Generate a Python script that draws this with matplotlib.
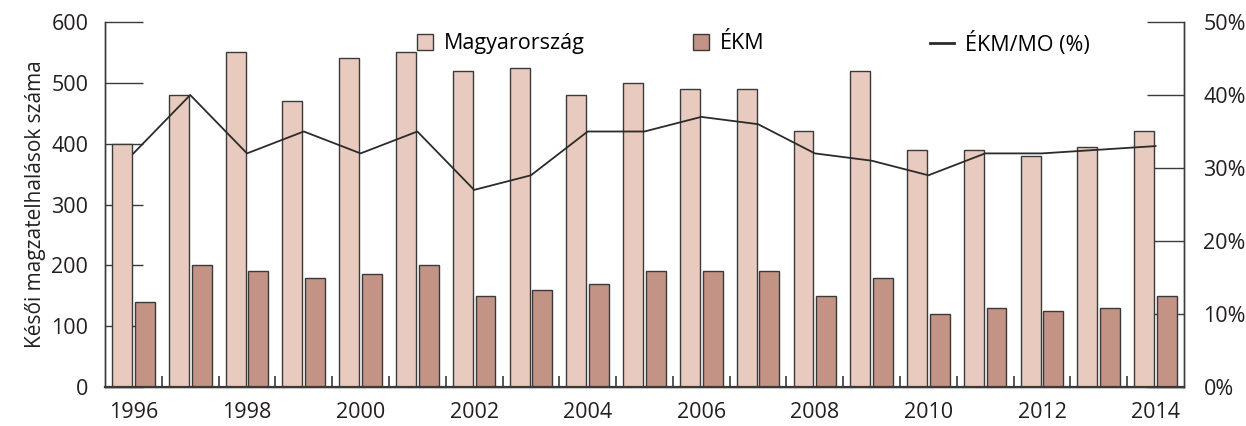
import matplotlib
matplotlib.use("Agg")
import matplotlib.pyplot as plt
from matplotlib.patches import Patch
from matplotlib.lines import Line2D
import numpy as np

plt.rcParams['font.family'] = ['Open Sans', 'DejaVu Sans']

years = list(range(1996, 2015))
magyarorszag = [400, 480, 550, 470, 540, 550, 520, 525, 480, 500,
                490, 490, 420, 520, 390, 390, 380, 395, 420]
ekm = [140, 200, 190, 180, 185, 200, 150, 160, 170, 190,
       190, 190, 150, 180, 120, 130, 125, 130, 150]
arany = [32, 40, 32, 35, 32, 35, 27, 29, 35, 35,
         37, 36, 32, 31, 29, 32, 32, 32.5, 33]

c_mo = '#E8CBBE'
c_ekm = '#C39385'
c_edge = '#3a3a3a'

fig = plt.figure(figsize=(12.46, 4.26), dpi=100)
ax = fig.add_axes([0.0843, 0.0915, 0.8659, 0.8569])
ax2 = ax.twinx()
# bars must cover the inward ticks of both axes
ax2.set_zorder(0)
ax.set_zorder(1)
ax.patch.set_visible(False)

x = np.arange(len(years))
w = 0.35
ax.bar(x - 0.2, magyarorszag, w, color=c_mo, edgecolor=c_edge, linewidth=1.0, zorder=3)
ax.bar(x + 0.2, ekm, w, color=c_ekm, edgecolor=c_edge, linewidth=1.0, zorder=3)

ax.set_xlim(-0.5, len(years) - 0.5)
ax.set_ylim(0, 600)
ax2.set_ylim(0, 50)
ax.plot(x, arany, color='#2b2b2b', linewidth=1.3, zorder=4, transform=ax2.transData)

ax.set_yticks(range(0, 601, 100))
ax2.set_yticks(range(0, 51, 10))
ax2.set_yticklabels([f"{v}%" for v in range(0, 51, 10)])

ax.set_xticks(x[::2])
ax.set_xticklabels([str(y) for y in years[::2]])
ax.set_xticks(np.arange(0.5, len(years) - 1, 1), minor=True)
ax.tick_params(axis='x', which='major', length=0, pad=11, labelsize=15.5, colors='#231f20')
ax.tick_params(axis='x', which='minor', length=8, direction='in', width=1.2, color=c_edge)
ax.tick_params(axis='y', direction='in', length=27, width=1.0, color=c_edge,
               labelsize=15.5, pad=12, labelcolor='#231f20')
ax2.tick_params(axis='y', direction='in', length=27, width=1.0, color=c_edge,
                labelsize=15.5, pad=14, labelcolor='#231f20')

for a in (ax, ax2):
    a.spines['top'].set_visible(False)
    for s in ('left', 'right', 'bottom'):
        a.spines[s].set_color(c_edge)
        a.spines[s].set_linewidth(1.0)
ax.spines['bottom'].set_linewidth(1.6)
ax.spines['bottom'].set_zorder(5)

ax.set_ylabel("Késői magzatelhalások száma", fontsize=15, color='#231f20', labelpad=4)

# legend entries placed separately
leg_kw = dict(frameon=False, fontsize=15.5, handlelength=0.75, handleheight=0.75,
              handletextpad=0.5, borderpad=0, borderaxespad=0)
l1 = ax.legend([Patch(facecolor=c_mo, edgecolor=c_edge)], ["Magyarország"],
               loc='center left', bbox_to_anchor=(0.289, 0.94), **leg_kw)
ax.add_artist(l1)
l2 = ax.legend([Patch(facecolor=c_ekm, edgecolor=c_edge)], ["ÉKM"],
               loc='center left', bbox_to_anchor=(0.545, 0.94), **leg_kw)
ax.add_artist(l2)
leg_kw['handlelength'] = 1.1
ax.legend([Line2D([], [], color='#2b2b2b', linewidth=2)], ["ÉKM/MO (%)"],
          loc='center left', bbox_to_anchor=(0.765, 0.94), **leg_kw)

fig.savefig("out.png", dpi=100)
